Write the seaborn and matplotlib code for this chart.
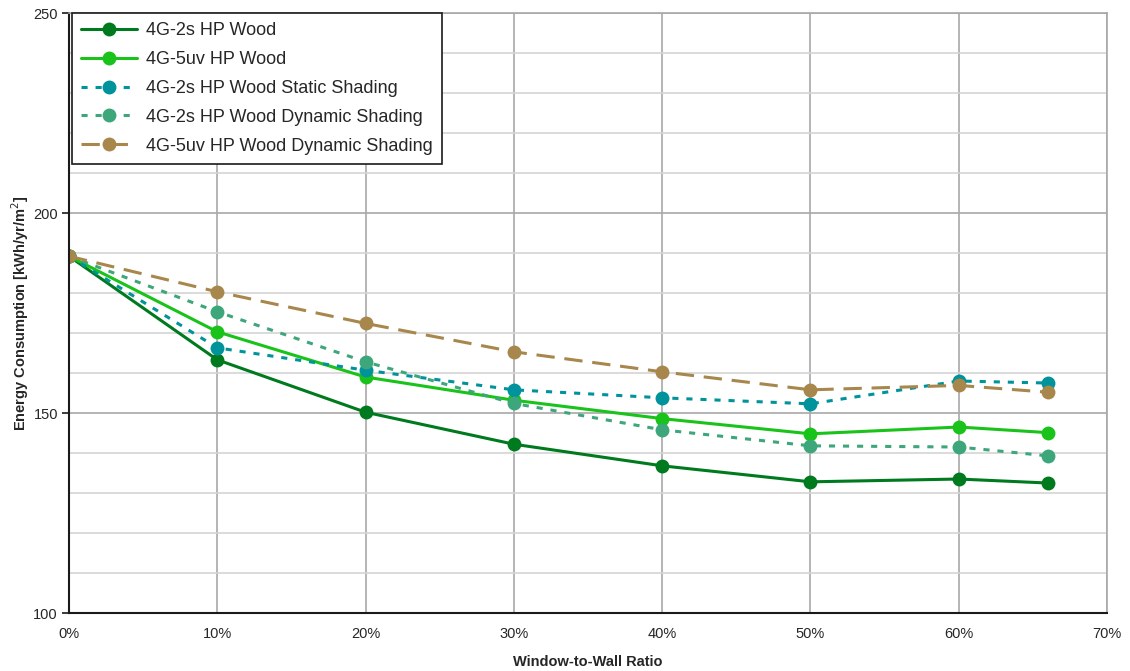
import matplotlib
matplotlib.use("Agg")
import matplotlib.pyplot as plt
from matplotlib.ticker import MultipleLocator, FuncFormatter
import numpy as np
import pandas as pd
import seaborn as sns

# Window-to-wall ratio (%) and energy consumption per case (kWh/yr/m²)
wwr = [0, 10, 20, 30, 40, 50, 60, 66]
series_names = [
    "4G-2s HP Wood",
    "4G-5uv HP Wood",
    "4G-2s HP Wood Static Shading",
    "4G-2s HP Wood Dynamic Shading",
    "4G-5uv HP Wood Dynamic Shading",
]
hp_2s = [189.2, 163.3, 150.2, 142.2, 136.8, 132.8, 133.5, 132.5]
hp_5uv = [189.2, 170.3, 159.0, 153.2, 148.6, 144.8, 146.5, 145.1]
hp_2s_static = [189.2, 166.3, 160.7, 155.8, 153.8, 152.3, 158.0, 157.5]
hp_2s_dynamic = [189.2, 175.3, 162.8, 152.4, 145.8, 141.8, 141.5, 139.3]
hp_5uv_dynamic = [189.2, 180.3, 172.4, 165.3, 160.3, 155.8, 156.9, 155.2]
all_values = [hp_2s, hp_5uv, hp_2s_static, hp_2s_dynamic, hp_5uv_dynamic]

colors = ["#007a1e", "#19c319", "#00939b", "#3da67a", "#a8874c"]
linestyles = ["-", "-", (0, (2.0, 2.6)), (0, (2.0, 2.6)), (0, (6.0, 3.2))]

df = pd.DataFrame({
    "wwr": np.tile(wwr, len(series_names)),
    "value": np.concatenate(all_values),
    "case": np.repeat(series_names, len(wwr)),
})

sns.set_style("white")
plt.rcParams["font.family"] = ["Liberation Sans", "DejaVu Sans"]

fig = plt.figure(figsize=(11.3, 6.71), dpi=100)
ax = fig.add_axes([0.0611, 0.0864, 0.9186, 0.8942])

for name, color, ls in zip(series_names, colors, linestyles):
    sub = df[df["case"] == name]
    sns.lineplot(data=sub, x="wwr", y="value", ax=ax, color=color,
                 linestyle=ls, linewidth=2.2, marker="o", markersize=10,
                 markeredgewidth=0, label=name, legend=False)

ax.set_xlim(0, 70)
ax.set_ylim(100, 250)
ax.xaxis.set_major_locator(MultipleLocator(10))
ax.yaxis.set_major_locator(MultipleLocator(50))
ax.yaxis.set_minor_locator(MultipleLocator(10))
ax.xaxis.set_major_formatter(FuncFormatter(lambda v, p: f"{int(v)}%"))

ax.grid(True, which="minor", axis="y", color="#d4d4d4", linewidth=1.2)
ax.grid(True, which="major", axis="y", color="#a8a8a8", linewidth=1.2)
ax.grid(True, which="major", axis="x", color="#a8a8a8", linewidth=1.2)
ax.set_axisbelow(True)

for side in ["top", "right"]:
    ax.spines[side].set_color("#a8a8a8")
    ax.spines[side].set_linewidth(1.2)
for side in ["left", "bottom"]:
    ax.spines[side].set_color("#1a1a1a")
    ax.spines[side].set_linewidth(1.5)

ax.tick_params(axis="y", which="major", direction="out", length=5, width=1.2,
               color="#1a1a1a", labelsize=10.5, pad=3, left=True)
ax.tick_params(axis="y", which="minor", length=0)
ax.tick_params(axis="x", which="major", length=0, labelsize=10.5, pad=10)

ax.set_xlabel("Window-to-Wall Ratio", fontsize=10.5, fontweight="bold", labelpad=10)
ax.set_ylabel("Energy Consumption [kWh/yr/m$^2$]", fontsize=10.5,
              fontweight="bold", labelpad=2)

leg = ax.legend(loc="upper left", bbox_to_anchor=(0.003, 1.0), fontsize=13,
                frameon=True, fancybox=False, handlelength=3.1,
                handletextpad=0.5, borderpad=0.5, labelspacing=0.66,
                borderaxespad=0.0)
leg.get_frame().set_edgecolor("#1a1a1a")
leg.get_frame().set_linewidth(1.2)
leg.get_frame().set_alpha(1.0)

fig.savefig("out.png", dpi=100)
